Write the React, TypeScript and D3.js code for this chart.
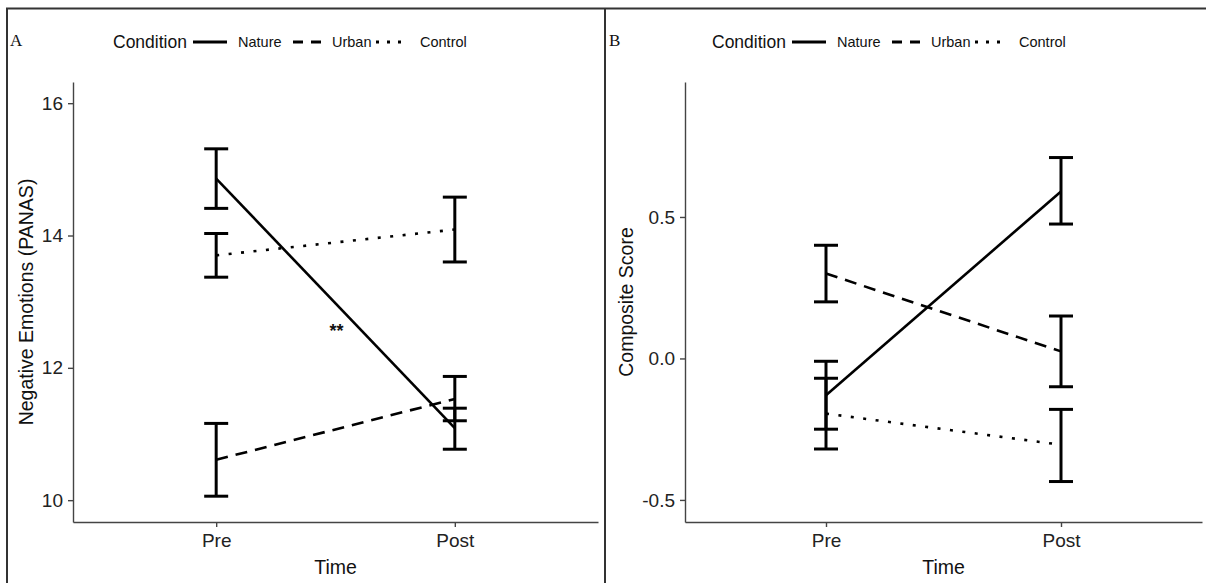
import React, { useEffect, useRef } from 'react';
import * as d3 from 'd3';

// time points and conditions
const times = ['Pre', 'Post'];
const conditions = ['Nature', 'Urban', 'Control'];
const dashes = ['none', '12,8', '3,9.5'];

// Panel A: negative emotions (PANAS), one row per condition [Pre, Post]
const panasMean = [[14.86, 11.09], [10.61, 11.53], [13.70, 14.09]];
const panasLow = [[14.41, 10.77], [10.06, 11.20], [13.37, 13.60]];
const panasHigh = [[15.31, 11.39], [11.16, 11.87], [14.03, 14.58]];
const panasTicks = [10, 12, 14, 16];

// Panel B: composite score
const compMean = [[-0.13, 0.59], [0.30, 0.025], [-0.195, -0.305]];
const compLow = [[-0.25, 0.475], [0.20, -0.10], [-0.32, -0.435]];
const compHigh = [[-0.01, 0.71], [0.40, 0.15], [-0.07, -0.18]];
const compTicks = [-0.5, 0, 0.5];

const FONT = '"Liberation Sans", Arial, sans-serif';

function drawPanel(svg, opts) {
    const { left, right, top, bottom, domain, ticks, fmt, mean, low, high, yTitle, letter, frameX, titleX } = opts;

    const x = d3.scalePoint().domain(times).range([left, right]).padding(0.6);
    const y = d3.scaleLinear().domain(domain).range([bottom, top]);

    const g = svg.append('g');

    // axes
    const yAxis = g.append('g')
        .attr('transform', `translate(${left},0)`)
        .call(d3.axisLeft(y).tickValues(ticks).tickFormat(fmt).tickSize(5).tickSizeOuter(0).tickPadding(5));
    const xAxis = g.append('g')
        .attr('transform', `translate(0,${bottom})`)
        .call(d3.axisBottom(x).tickSize(5).tickSizeOuter(0).tickPadding(7));
    [yAxis, xAxis].forEach(a => {
        a.selectAll('path, line').attr('stroke', '#444').attr('stroke-width', 1.4);
        a.selectAll('text').attr('fill', '#222').style('font-family', FONT).style('font-size', '19px');
    });

    // axis titles
    g.append('text')
        .attr('x', (left + right) / 2)
        .attr('y', bottom + 52)
        .attr('text-anchor', 'middle')
        .style('font-family', FONT).style('font-size', '19.5px')
        .attr('fill', '#111')
        .text('Time');
    g.append('text')
        .attr('transform', `translate(${titleX},${(top + bottom) / 2}) rotate(-90)`)
        .attr('text-anchor', 'middle')
        .style('font-family', FONT).style('font-size', '19.5px')
        .attr('fill', '#111')
        .text(yTitle);

    // lines
    const line = d3.line().x((d, i) => x(times[i])).y(d => y(d));
    conditions.forEach((c, ci) => {
        g.append('path')
            .datum(mean[ci])
            .attr('d', line)
            .attr('fill', 'none')
            .attr('stroke', '#000')
            .attr('stroke-width', 2.6)
            .attr('stroke-dasharray', dashes[ci]);
    });

    // error bars
    conditions.forEach((c, ci) => {
        times.forEach((t, ti) => {
            const cx = x(t);
            const eb = g.append('g').attr('stroke', '#000').attr('stroke-width', 3).attr('fill', 'none');
            eb.append('line').attr('x1', cx).attr('x2', cx).attr('y1', y(low[ci][ti])).attr('y2', y(high[ci][ti]));
            eb.append('line').attr('x1', cx - 12).attr('x2', cx + 12).attr('y1', y(low[ci][ti])).attr('y2', y(low[ci][ti]));
            eb.append('line').attr('x1', cx - 12).attr('x2', cx + 12).attr('y1', y(high[ci][ti])).attr('y2', y(high[ci][ti]));
        });
    });

    // panel letter
    g.append('text')
        .attr('x', frameX + 3)
        .attr('y', 46)
        .style('font-family', '"Liberation Serif", "Times New Roman", serif')
        .style('font-size', '17px')
        .attr('fill', '#111')
        .text(letter);

    // legend
    const lx = frameX + 106;
    const ly = 42;
    const leg = g.append('g').attr('transform', `translate(${lx},${ly})`);
    leg.append('text')
        .attr('x', 0).attr('y', 6)
        .style('font-family', FONT).style('font-size', '17.5px')
        .attr('fill', '#111')
        .text('Condition');
    const keyX = [80, 180, 263];
    const keyW = [34, 28, 25];
    const labX = [125, 219, 307];
    conditions.forEach((c, ci) => {
        leg.append('line')
            .attr('x1', keyX[ci]).attr('x2', keyX[ci] + keyW[ci])
            .attr('y1', 0).attr('y2', 0)
            .attr('stroke', '#000')
            .attr('stroke-width', 3)
            .attr('stroke-dasharray', ci === 1 ? '10,8' : ci === 2 ? '3,8' : 'none');
        leg.append('text')
            .attr('x', labX[ci]).attr('y', 5)
            .style('font-family', FONT).style('font-size', '14.5px')
            .attr('fill', '#111')
            .text(c);
    });

    return { x, y, g };
}

function App() {
    const svgRef = useRef();

    useEffect(() => {
        const svg = d3.select(svgRef.current);
        svg.selectAll('*').remove();

        svg.append('rect').attr('width', 1206).attr('height', 583).attr('fill', '#fff');

        const a = drawPanel(svg, {
            left: 73, right: 598, top: 82, bottom: 522,
            domain: [9.67, 16.32], ticks: panasTicks, fmt: d3.format('d'),
            mean: panasMean, low: panasLow, high: panasHigh,
            yTitle: 'Negative Emotions (PANAS)', letter: 'A', frameX: 7, titleX: 33
        });

        // significance marker between Pre and Post of Nature
        a.g.append('text')
            .attr('x', (a.x('Pre') + a.x('Post')) / 2 + 1)
            .attr('y', 337)
            .attr('text-anchor', 'middle')
            .style('font-family', FONT).style('font-size', '18px')
            .style('font-weight', 'bold')
            .attr('fill', '#111')
            .text('**');

        const fmt1 = d => d3.format('.1f')(d).replace('\u2212', '-');
        drawPanel(svg, {
            left: 685, right: 1202, top: 82, bottom: 522,
            domain: [-0.578, 0.977], ticks: compTicks, fmt: fmt1,
            mean: compMean, low: compLow, high: compHigh,
            yTitle: 'Composite Score', letter: 'B', frameX: 606, titleX: 633
        });

        // figure frame
        const frame = svg.append('g').attr('stroke', '#333').attr('stroke-width', 2);
        frame.append('line').attr('x1', 6).attr('x2', 1206).attr('y1', 8.5).attr('y2', 8.5);
        frame.append('line').attr('x1', 7).attr('x2', 7).attr('y1', 8).attr('y2', 583);
        frame.append('line').attr('x1', 605).attr('x2', 605).attr('y1', 8).attr('y2', 583);
    }, []);

    return (
        <svg ref={svgRef} width={1206} height={583}
            style={{ position: 'absolute', left: 0, top: 0, display: 'block' }}></svg>
    );
}

export default App;
